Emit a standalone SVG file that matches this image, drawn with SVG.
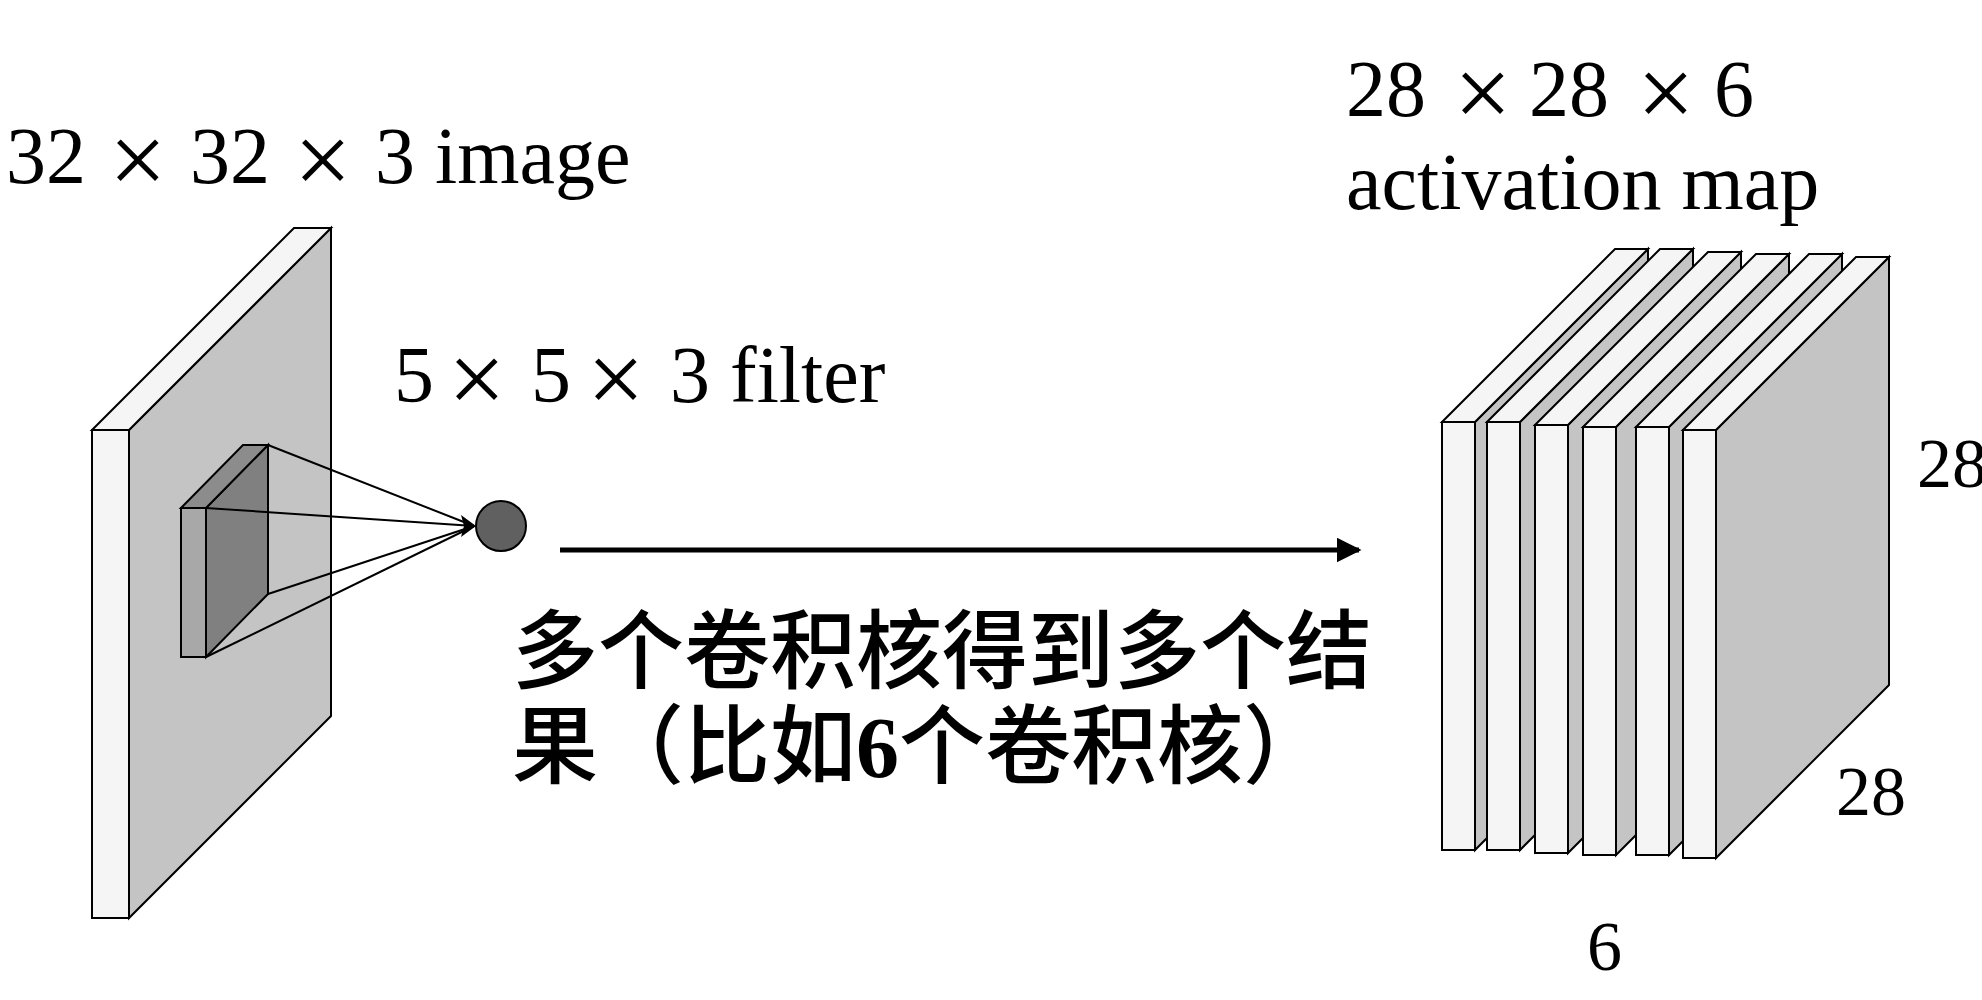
<svg xmlns="http://www.w3.org/2000/svg" width="1982" height="1000" viewBox="0 0 1982 1000">
<style>
.edge{stroke:#000;stroke-width:2;stroke-linejoin:miter}
.light{fill:#f5f5f5}
.side{fill:#c4c4c4}
.lbl{font-family:"Liberation Serif","Times New Roman",serif;font-size:80px;fill:#000}
.dim{font-family:"Liberation Serif","Times New Roman",serif;font-size:70px;fill:#000}
.op{font-size:102px}
.cjk{font-family:"Liberation Serif","Noto Sans CJK SC",sans-serif;font-size:86px;font-weight:500;fill:#000}
.fan{stroke:#000;stroke-width:2;fill:none}
</style>
<defs>
<marker id="ah" viewBox="0 0 10 10" refX="9" refY="5" markerWidth="5" markerHeight="5" markerUnits="strokeWidth" orient="auto">
<path d="M0,0 L10,5 L0,10 z" fill="#000"/>
</marker>
</defs>
<rect width="1982" height="1000" fill="#fff"/>

<g id="image-volume">
<polygon class="edge side" points="129,430 331,228 331,716 129,918"/>
<polygon class="edge light" points="92,430 294,228 331,228 129,430"/>
<rect class="edge light" x="92" y="430" width="37" height="488"/>
</g>

<g id="filter">
<polygon class="edge" fill="#808080" points="206,508 268,445 268,594 206,657"/>
<polygon class="edge" fill="#8c8c8c" points="181,508 243,445 268,445 206,508"/>
<rect class="edge" fill="#a8a8a8" x="181" y="508" width="25" height="149"/>
</g>

<g id="neuron">
<circle class="edge" fill="#606060" cx="501" cy="526" r="25"/>
</g>

<g id="activation-maps">
<g id="map1">
<polygon class="edge side" points="1475,422 1648,249 1648,677 1475,850"/>
<polygon class="edge light" points="1442,422 1615,249 1648,249 1475,422"/>
<rect class="edge light" x="1442" y="422" width="33" height="428"/>
</g>
<g id="map2">
<polygon class="edge side" points="1520,422 1693,249 1693,677 1520,850"/>
<polygon class="edge light" points="1487,422 1660,249 1693,249 1520,422"/>
<rect class="edge light" x="1487" y="422" width="33" height="428"/>
</g>
<g id="map3">
<polygon class="edge side" points="1568,425 1741,252 1741,680 1568,853"/>
<polygon class="edge light" points="1535,425 1708,252 1741,252 1568,425"/>
<rect class="edge light" x="1535" y="425" width="33" height="428"/>
</g>
<g id="map4">
<polygon class="edge side" points="1616,427 1789,254 1789,682 1616,855"/>
<polygon class="edge light" points="1583,427 1756,254 1789,254 1616,427"/>
<rect class="edge light" x="1583" y="427" width="33" height="428"/>
</g>
<g id="map5">
<polygon class="edge side" points="1669,427 1842,254 1842,682 1669,855"/>
<polygon class="edge light" points="1636,427 1809,254 1842,254 1669,427"/>
<rect class="edge light" x="1636" y="427" width="33" height="428"/>
</g>
<g id="map6">
<polygon class="edge side" points="1716,430 1889,257 1889,685 1716,858"/>
<polygon class="edge light" points="1683,430 1856,257 1889,257 1716,430"/>
<rect class="edge light" x="1683" y="430" width="33" height="428"/>
</g>
</g>

<g id="connectors">
<line class="fan" x1="268" y1="445" x2="474" y2="526"/>
<line class="fan" x1="206" y1="508" x2="474" y2="526"/>
<line class="fan" x1="268" y1="594" x2="474" y2="526"/>
<line class="fan" x1="206" y1="657" x2="474" y2="526"/>
<polygon points="476,526 461,515 464,526 461,537" fill="#000"/>
<line x1="560" y1="550" x2="1359" y2="550" stroke="#000" stroke-width="5" marker-end="url(#ah)"/>
</g>

<g id="labels">
<text class="lbl"><tspan x="6" y="183">32</tspan><tspan class="op" x="109" y="194">×</tspan><tspan x="190" y="183">32</tspan><tspan class="op" x="294" y="194">×</tspan><tspan x="375" y="183">3 image</tspan></text>
<text class="lbl"><tspan x="394" y="402">5</tspan><tspan class="op" x="448" y="413">×</tspan><tspan x="531" y="402">5</tspan><tspan class="op" x="587" y="413">×</tspan><tspan x="670" y="402">3 filter</tspan></text>
<text class="lbl"><tspan x="1346" y="116">28</tspan><tspan class="op" x="1454" y="127">×</tspan><tspan x="1529" y="116">28</tspan><tspan class="op" x="1637" y="127">×</tspan><tspan x="1714" y="116">6</tspan></text>
<text class="lbl" x="1346" y="209">activation map</text>
<text class="dim" x="1917" y="487">28</text>
<text class="dim" x="1836" y="815">28</text>
<text class="dim" x="1587" y="970">6</text>
<text class="cjk" x="512" y="682">多个卷积核得到多个结</text>
<text class="cjk" x="512" y="777">果（比如<tspan font-weight="bold">6</tspan>个卷积核）</text>
</g>
</svg>
